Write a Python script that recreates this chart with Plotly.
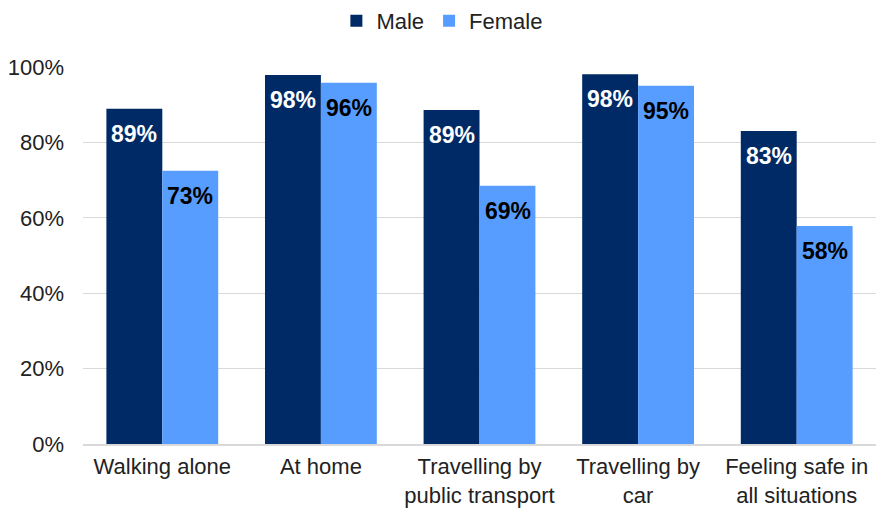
import plotly.graph_objects as go

categories = ["Walking alone", "At home", "Travelling by<br>public transport",
              "Travelling by<br>car", "Feeling safe in<br>all situations"]
male = [88.9, 97.9, 88.6, 98.1, 83.0]
female = [72.5, 95.8, 68.5, 95.0, 57.8]
male_labels = ["89%", "98%", "89%", "98%", "83%"]
female_labels = ["73%", "96%", "69%", "95%", "58%"]
y_ticks = [0, 20, 40, 60, 80, 100]
y_tick_labels = ["0%", "20%", "40%", "60%", "80%", "100%"]

FONT = "Liberation Sans, Arial, sans-serif"
MALE_C = "#002a66"
FEMALE_C = "#579dff"

fig = go.Figure()
fig.add_trace(go.Bar(name="Male", x=categories, y=male, marker_color=MALE_C,
                     marker_line_width=0))
fig.add_trace(go.Bar(name="Female", x=categories, y=female, marker_color=FEMALE_C,
                     marker_line_width=0))

annotations = []
for series, labels, color, xs in [(male, male_labels, "white", -28),
                                  (female, female_labels, "black", 28)]:
    for cat, val, lab in zip(categories, series, labels):
        annotations.append(dict(
            x=cat, y=val, text=lab, showarrow=False, xref="x", yref="y",
            xanchor="center", yanchor="middle", xshift=xs, yshift=-25,
            font=dict(color=color, size=23, family=FONT, weight="bold"),
        ))

fig.update_layout(
    width=876, height=510,
    margin=dict(l=83, r=0, t=67, b=66),
    barmode="group", bargap=0.295, bargroupgap=0,
    plot_bgcolor="white", paper_bgcolor="white",
    font=dict(family=FONT, size=22, color="#222222"),
    legend=dict(orientation="h", xref="container", yref="container",
                x=0.505, y=1.0, xanchor="center", yanchor="top",
                font=dict(size=22, color="#222222"), itemwidth=30,
                traceorder="normal"),
    annotations=annotations,
)
fig.update_yaxes(range=[0, 100], tickvals=y_ticks, ticktext=y_tick_labels,
                 showgrid=True, gridcolor="#d9d9d9", gridwidth=1,
                 zeroline=False, showline=False, ticks="",
                 ticklabelstandoff=18, tickfont=dict(size=22, color="#222222"))
fig.update_xaxes(showline=True, linecolor="#d9d9d9", linewidth=1.5,
                 ticks="", ticklabelstandoff=2,
                 tickfont=dict(size=22, color="#222222"))

fig.write_html("out.html")
